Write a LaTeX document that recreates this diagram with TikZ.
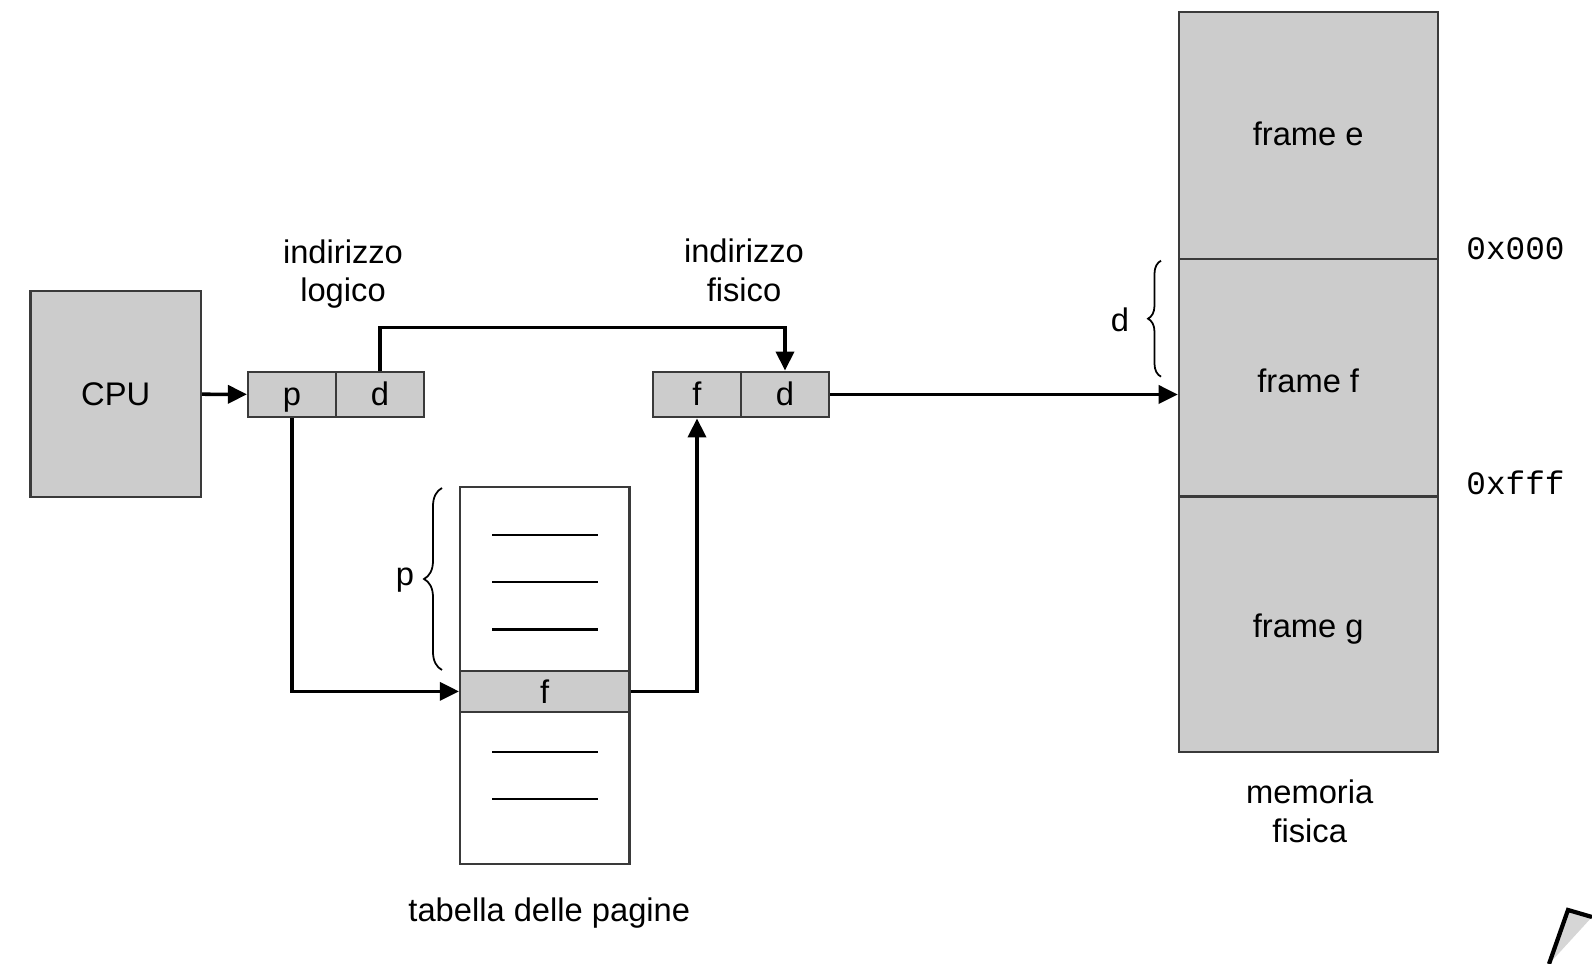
\documentclass[tikz,border=0pt]{standalone}
\usepackage{fontspec}
\setmainfont{Liberation Sans}
\setmonofont{Liberation Mono}
\usepackage{xcolor}
\usetikzlibrary{arrows.meta,decorations.pathreplacing}
\definecolor{boxgray}{HTML}{CCCCCC}
\definecolor{edgegray}{HTML}{3A3A3A}

\begin{document}
\begin{tikzpicture}[
    every node/.style={font=\fontsize{9.3}{11}\selectfont},
    box/.style={draw=edgegray,line width=0.6pt,inner sep=0pt},
    graybox/.style={box,fill=boxgray},
    cell/.style={graybox,minimum width=0.88cm,minimum height=0.457cm,text height=1.6ex,text depth=0.45ex},
    frame/.style={graybox,minimum width=2.589cm},
    link/.style={line width=1pt,-{Triangle[length=0.19cm,width=0.18cm]}},
    entry/.style={line width=0.6pt},
    brace/.style={decorate,decoration={brace,amplitude=#1},line width=0.5pt}
  ]
      \useasboundingbox (0,0) rectangle (15.92,9.64);
      \node (CPU) [graybox,minimum width=1.705cm,minimum height=2.055cm] at (1.157,5.70) {CPU};
%%
      \node (LP) [cell] at (2.92,5.695) {p};
      \node (LD) [cell] at (3.80,5.695) {d};
      \node (LL) [align=center] at (3.43,6.90) {indirizzo\\logico};
      \node (PF) [cell] at (6.97,5.695) {f};
      \node (PD) [cell] at (7.85,5.695) {d};
      \node (PL) [align=center] at (7.44,6.94) {indirizzo\\fisico};
%%
      \node (T1) [box,minimum width=1.695cm,minimum height=1.84cm] at (5.4475,3.85) {};
      \node (TF) [graybox,minimum width=1.695cm,minimum height=0.407cm] at (5.4475,2.726) {f};
      \node (T2) [box,minimum width=1.695cm,minimum height=1.523cm] at (5.4475,1.7615) {};
      \foreach \y in {4.29,3.82,3.345,2.12,1.65}
        \draw [entry] (4.92,\y) -- (5.98,\y);
      \node (TL) at (5.493,0.513) {tabella delle pagine};
      \draw [brace=0.18cm] (4.42,2.94) -- (4.42,4.76);
      \node (BP) at (4.05,3.84) {p};
%%
      \node (FE) [frame,minimum height=2.468cm,text depth=0.04cm] at (13.0825,8.284) {frame e};
      \node (FF) [frame,minimum height=2.375cm,text height=0.30cm] at (13.0825,5.8625) {frame f};
      \node (FG) [frame,minimum height=2.558cm,text height=0.32cm] at (13.0825,3.396) {frame g};
      \node (ML) [align=center] at (13.097,1.53) {memoria\\fisica};
      \node (A0) [anchor=west] at (14.54,7.153) {\texttt{0x000}};
      \node (A1) [anchor=west] at (14.54,4.807) {\texttt{0xfff}};
      \draw [brace=0.13cm] (11.61,5.873) -- (11.61,7.033);
      \node (BD) at (11.20,6.44) {d};
%%
      \draw [link] (CPU) -- (LP);
      \draw [link] (LD.north) -- ++(0,0.43) -| (PD.north);
      \draw [link] (LP.south) |- (TF.west);
      \draw [link] (TF.east) -| (PF.south);
      \draw [link] (PD.east) -- (PD.east -| FF.west);
%%
      \draw [line width=1.2pt,fill=boxgray!80] (15.49,0) -- (15.68,0.54) -- (15.92,0.47);
    \end{tikzpicture}
\end{document}
